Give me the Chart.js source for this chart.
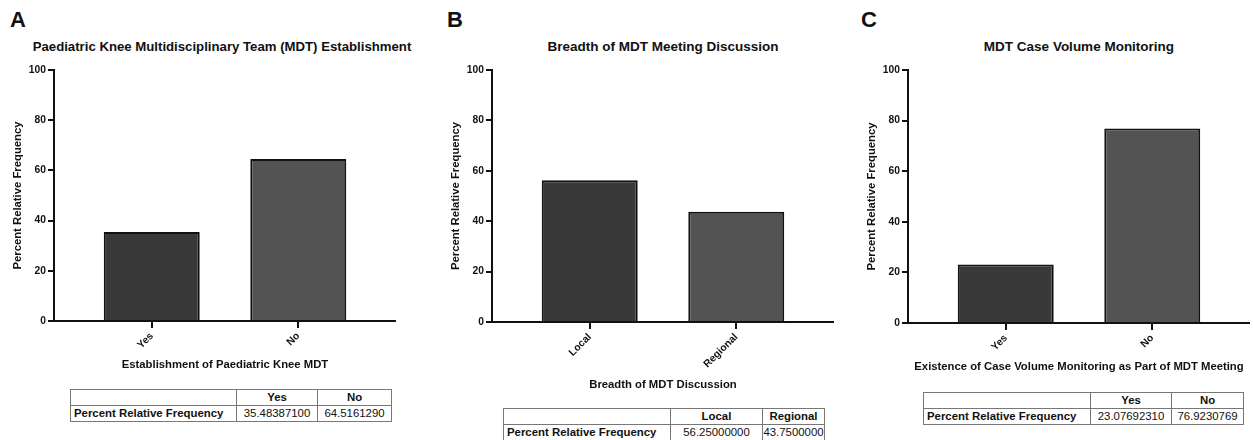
<!DOCTYPE html>
<html><head><meta charset="utf-8">
<script src="https://cdn.jsdelivr.net/npm/chart.js@4"></script>
<style>
html,body{margin:0;padding:0;background:#fff;width:1253px;height:440px;overflow:hidden;font-family:"Liberation Sans",Arial,sans-serif;color:#111}
canvas{position:absolute}
.letter{position:absolute;font-weight:bold;font-size:22px;line-height:22px;top:9px}
.title{position:absolute;width:600px;text-align:center;font-weight:bold;font-size:13.5px;line-height:16px;top:39px;white-space:nowrap}
table{position:absolute;border-collapse:collapse;table-layout:fixed;font-size:11.4px;color:#111}
td{border:1px solid #777;height:15px;padding:0 3px;white-space:nowrap;line-height:15px;overflow:visible}
td.h{font-weight:bold;text-align:center}
td.r{font-weight:bold;text-align:left}
td.v{text-align:center;padding:0}
</style></head>
<body>
<div class="letter" style="left:10px">A</div>
<div class="letter" style="left:447px">B</div>
<div class="letter" style="left:861px">C</div>
<div class="title" id="hA" style="left:-78px;font-size:13.2px"></div>
<div class="title" id="hB" style="left:363px"></div>
<div class="title" id="hC" style="left:779px"></div>
<canvas id="cA" width="396" height="312" style="left:0px;top:60px"></canvas>
<canvas id="cB" width="396" height="332" style="left:438px;top:60px"></canvas>
<canvas id="cC" width="396" height="314" style="left:854px;top:60px"></canvas>
<table id="tA" style="left:70px;top:389px"></table>
<table id="tB" style="left:503px;top:408px"></table>
<table id="tC" style="left:923px;top:392px"></table>
<script>
// ---- data ----
const panelACategories = ['Yes', 'No'];
const panelAValues = [35.48387100, 64.5161290];
const panelATableText = ['35.48387100', '64.5161290'];
const panelATitle = 'Paediatric Knee Multidisciplinary Team (MDT) Establishment';
const panelAXTitle = 'Establishment of Paediatric Knee MDT';

const panelBCategories = ['Local', 'Regional'];
const panelBValues = [56.25000000, 43.7500000];
const panelBTableText = ['56.25000000', '43.7500000'];
const panelBTitle = 'Breadth of MDT Meeting Discussion';
const panelBXTitle = 'Breadth of MDT Discussion';

const panelCCategories = ['Yes', 'No'];
const panelCValues = [23.07692310, 76.9230769];
const panelCTableText = ['23.07692310', '76.9230769'];
const panelCTitle = 'MDT Case Volume Monitoring';
const panelCXTitle = 'Existence of Case Volume Monitoring as Part of MDT Meeting';

const yAxisTitle = 'Percent Relative Frequency';
const tableRowLabel = 'Percent Relative Frequency';
const yMin = 0, yMax = 100, yStep = 20;

// ---- drawing ----
const FONT = '"Liberation Sans", Arial, sans-serif';
Chart.defaults.font.family = FONT;
Chart.defaults.color = '#111';
const barColors = ['#393939', '#535353'];

function makeChart(id, cats, vals, xTitle, xHeight) {
  new Chart(document.getElementById(id), {
    type: 'bar',
    data: {
      datasets: [{
        data: vals.map((v, i) => ({x: i, y: v})),
        backgroundColor: barColors,
        borderColor: '#111',
        borderWidth: 2,
        categoryPercentage: 1,
        barPercentage: 0.655
      }]
    },
    options: {
      responsive: false,
      animation: false,
      devicePixelRatio: 1,
      layout: {padding: {top: 10, left: 0, right: 0, bottom: 0}},
      plugins: {
        legend: {display: false},
        tooltip: {enabled: false},
        title: {display: false}
      },
      scales: {
        x: {
          type: 'linear', min: -0.667, max: 1.667, offset: false,
          afterBuildTicks: s => { s.ticks = cats.map((c, i) => ({value: i})); },
          afterFit: s => { s.height = xHeight; },
          ticks: {autoSkip: false, minRotation: 45, maxRotation: 45, padding: 2,
                  font: {size: 10.3, weight: 'bold'}, color: '#111',
                  callback: v => cats[v]},
          grid: {display: true, offset: false, drawOnChartArea: false, drawTicks: true, tickLength: 7, color: '#111', lineWidth: 2},
          border: {display: true, color: '#111', width: 2},
          title: {display: true, text: xTitle, color: '#111', font: {size: 11.3, weight: 'bold'}, padding: {top: 0, bottom: 0}}
        },
        y: {
          min: yMin, max: yMax,
          afterFit: s => { s.width = 54; },
          ticks: {stepSize: yStep, padding: 2, font: {size: 10.3, weight: 'bold'}, color: '#111'},
          grid: {display: true, drawOnChartArea: false, drawTicks: true, tickLength: 6, color: '#111', lineWidth: 2},
          border: {display: true, color: '#111', width: 2},
          title: {display: true, text: yAxisTitle, color: '#111', font: {size: 11.3, weight: 'bold'}, padding: {top: 10.7, bottom: 0}}
        }
      }
    }
  });
}

function makeTable(id, cats, texts, widths) {
  const t = document.getElementById(id);
  const cg = document.createElement('colgroup');
  widths.forEach(w => { const c = document.createElement('col'); c.style.width = w + 'px'; cg.appendChild(c); });
  t.appendChild(cg);
  t.style.width = widths.reduce((a, b) => a + b, 0) + 'px';
  const r1 = t.insertRow();
  r1.insertCell().className = 'h';
  cats.forEach(c => { const td = r1.insertCell(); td.className = 'h'; td.textContent = c; });
  const r2 = t.insertRow();
  const l = r2.insertCell(); l.className = 'r'; l.textContent = tableRowLabel;
  texts.forEach(v => { const td = r2.insertCell(); td.className = 'v'; td.textContent = v; });
}

document.getElementById('hA').textContent = panelATitle;
document.getElementById('hB').textContent = panelBTitle;
document.getElementById('hC').textContent = panelCTitle;
makeChart('cA', panelACategories, panelAValues, panelAXTitle, 51);
makeChart('cB', panelBCategories, panelBValues, panelBXTitle, 70);
makeChart('cC', panelCCategories, panelCValues, panelCXTitle, 51);
makeTable('tA', panelACategories, panelATableText, [166, 81, 74]);
makeTable('tB', panelBCategories, panelBTableText, [167, 92, 62]);
makeTable('tC', panelCCategories, panelCTableText, [167, 81, 72]);
</script>
</body></html>
